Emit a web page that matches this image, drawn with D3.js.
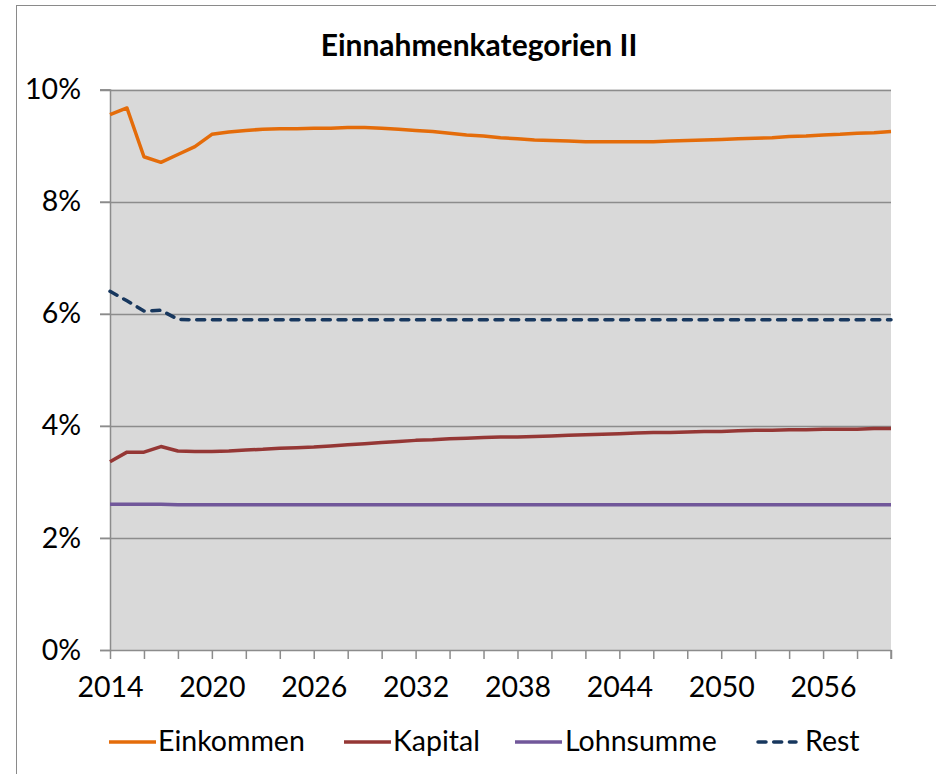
<!DOCTYPE html>
<html><head><meta charset="utf-8">
<script src="https://cdn.jsdelivr.net/npm/d3@7"></script>
<style>
html,body{margin:0;padding:0;background:#fff;}
svg{display:block;font-family:Lato,"Open Sans",sans-serif;}
</style></head>
<body>
<svg id="chart" width="936" height="774"></svg>
<script>
const years = d3.range(2014, 2061);
const einkommen = [9.55,9.67,8.80,8.70,8.84,8.98,9.20,9.24,9.27,9.29,9.30,9.30,9.31,9.31,9.32,9.32,9.31,9.29,9.27,9.25,9.22,9.19,9.17,9.14,9.12,9.10,9.09,9.08,9.07,9.07,9.07,9.07,9.07,9.08,9.09,9.10,9.11,9.12,9.13,9.14,9.16,9.17,9.19,9.20,9.22,9.23,9.25];
const kapital = [3.36,3.53,3.53,3.63,3.55,3.54,3.54,3.55,3.57,3.58,3.60,3.61,3.62,3.64,3.66,3.68,3.70,3.72,3.74,3.75,3.77,3.78,3.79,3.80,3.80,3.81,3.82,3.83,3.84,3.85,3.86,3.87,3.88,3.88,3.89,3.90,3.90,3.91,3.92,3.92,3.93,3.93,3.94,3.94,3.94,3.95,3.95];
const lohnsumme = [2.60,2.60,2.60,2.60,2.59,2.59,2.59,2.59,2.59,2.59,2.59,2.59,2.59,2.59,2.59,2.59,2.59,2.59,2.59,2.59,2.59,2.59,2.59,2.59,2.59,2.59,2.59,2.59,2.59,2.59,2.59,2.59,2.59,2.59,2.59,2.59,2.59,2.59,2.59,2.59,2.59,2.59,2.59,2.59,2.59,2.59,2.59];
const rest = [6.40,6.23,6.05,6.06,5.90,5.89,5.89,5.89,5.89,5.89,5.89,5.89,5.89,5.89,5.89,5.89,5.89,5.89,5.89,5.89,5.89,5.89,5.89,5.89,5.89,5.89,5.89,5.89,5.89,5.89,5.89,5.89,5.89,5.89,5.89,5.89,5.89,5.89,5.89,5.89,5.89,5.89,5.89,5.89,5.89,5.89,5.89];
const seriesNames = ["Einkommen","Kapital","Lohnsumme","Rest"];
const xTickYears = d3.range(2014, 2061, 2);
const xLabelYears = [2014,2020,2026,2032,2038,2044,2050,2056];
const yTicks = [0,2,4,6,8,10];
const title = "Einnahmenkategorien II";

const colors = {Einkommen:"#E46C0A", Kapital:"#953735", Lohnsumme:"#71579A", Rest:"#17375E"};
const dataBy = {Einkommen:einkommen, Kapital:kapital, Lohnsumme:lohnsumme, Rest:rest};

const svg = d3.select("#chart");
const L = 110, R = 891, T = 89.5, B = 650;
const FS = 28.5;

// outer frame
svg.append("rect").attr("x",16.5).attr("y",5.5).attr("width",1000).attr("height",1000)
  .attr("fill","none").attr("stroke","#8a8a8a").attr("stroke-width",1);

const x = d3.scaleLinear().domain([2014,2060]).range([L,R]);
const y = d3.scaleLinear().domain([0,10]).range([B,T]);

svg.append("rect").attr("x",L).attr("y",T).attr("width",R-L).attr("height",B-T).attr("fill","#D9D9D9");

// gridlines
svg.append("g").selectAll("line").data(yTicks.filter(d=>d>0)).join("line")
  .attr("x1",L-10).attr("x2",R).attr("y1",d=>Math.round(y(d))+0.5).attr("y2",d=>Math.round(y(d))+0.5)
  .attr("stroke","#8C8C8C").attr("stroke-width",1.5);

// y axis
const yAxis = d3.axisLeft(y).tickValues(yTicks).tickFormat(d=>d+"%").tickSize(10).tickPadding(19);
const gy = svg.append("g").attr("transform",`translate(${L},0)`).call(yAxis);
gy.select(".domain").attr("stroke","#8C8C8C").attr("stroke-width",1.5);
gy.selectAll(".tick line").attr("stroke","#8C8C8C").attr("stroke-width",1.5);
gy.selectAll("text").attr("font-size",FS).attr("fill","#000").attr("font-family","Lato, sans-serif");

// x axis
const xAxis = d3.axisBottom(x).tickValues(xTickYears).tickFormat(d=>xLabelYears.includes(d)?String(d):"").tickSize(9).tickPadding(18).tickSizeOuter(0);
const gx = svg.append("g").attr("transform",`translate(0,${B})`).call(xAxis);
gx.select(".domain").attr("stroke","#8C8C8C").attr("stroke-width",1.5);
gx.selectAll(".tick line").attr("stroke","#8C8C8C").attr("stroke-width",1.5);
gx.selectAll("text").attr("font-size",FS).attr("fill","#000").attr("font-family","Lato, sans-serif");
gx.append("line").attr("x1",R).attr("x2",R).attr("y1",0).attr("y2",9).attr("stroke","#8C8C8C").attr("stroke-width",1.5);

// lines
const line = d3.line().x((d,i)=>x(years[i])).y(d=>y(d));
const order = ["Lohnsumme","Kapital","Rest","Einkommen"];
order.forEach(name=>{
  const p = svg.append("path").datum(dataBy[name]).attr("d",line)
    .attr("fill","none").attr("stroke",colors[name]).attr("stroke-width",3.5)
    .attr("stroke-linejoin","round");
  if(name==="Rest") p.attr("stroke-dasharray","8,7.7").attr("stroke-linecap","round");
});

// title
svg.append("text").attr("x",479).attr("y",56).attr("text-anchor","middle")
  .attr("font-size",30).attr("font-weight","bold").attr("font-family","Lato, sans-serif").text(title);

// legend
const legendPos = [{n:"Einkommen",x1:109,x2:156,tx:158},{n:"Kapital",x1:344,x2:391,tx:393},{n:"Lohnsumme",x1:515,x2:562,tx:565},{n:"Rest",x1:756,x2:796,tx:805}];
const lg = svg.append("g");
legendPos.forEach(p=>{
  const l = lg.append("line").attr("x1",p.x1).attr("x2",p.x2).attr("y1",742).attr("y2",742)
    .attr("stroke",colors[p.n]).attr("stroke-width",3.5);
  if(p.n==="Rest") l.attr("stroke-dasharray","8,7.7").attr("stroke-linecap","round").attr("x1",p.x1+2);
  lg.append("text").attr("x",p.tx).attr("y",751).attr("font-size",FS).attr("font-family","Lato, sans-serif").text(p.n);
});
</script>
</body></html>
